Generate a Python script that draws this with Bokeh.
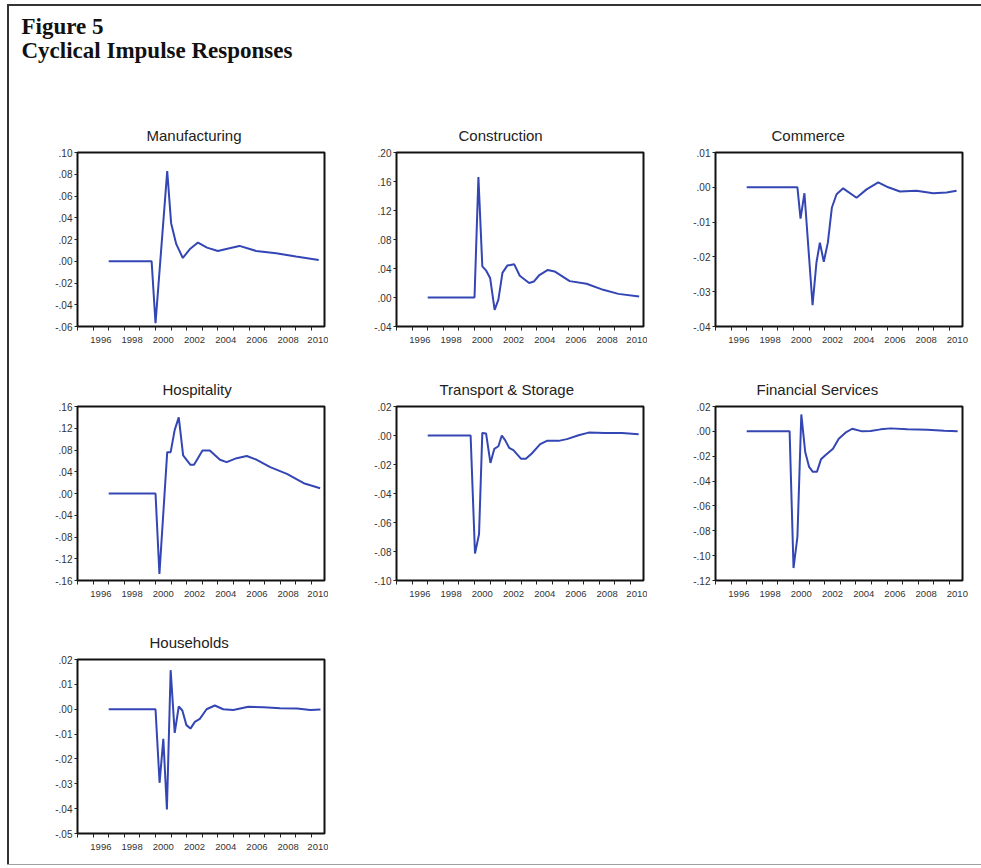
from bokeh.plotting import figure
from bokeh.layouts import column, row
from bokeh.models import Range1d, FixedTicker, CustomJSTickFormatter, Title, Label, Spacer
from bokeh.embed import file_html
from bokeh.resources import INLINE

# ---------------- data ----------------
heading = ["Figure 5", "Cyclical Impulse Responses"]

x_tick_labels = ["1996", "1998", "2000", "2002", "2004", "2006", "2008", "2010"]
x_years = list(range(1995, 2011))

manufacturing_x = [1997.0, 1999.75, 2000.0, 2000.75, 2001.0, 2001.33, 2001.75, 2002.19, 2002.72,
                   2003.3, 2004.0, 2004.6, 2005.38, 2006.45, 2007.73, 2009.0, 2010.46]
manufacturing_y = [0.0, 0.0, -0.057, 0.083, 0.035, 0.0157, 0.003, 0.011, 0.0172,
                   0.0125, 0.0095, 0.0115, 0.0141, 0.0095, 0.0074, 0.0043, 0.0012]

construction_x = [1997.0, 2000.0, 2000.25, 2000.5, 2000.75, 2001.0, 2001.29, 2001.53, 2001.79, 2002.1,
                  2002.54, 2002.9, 2003.5, 2003.8, 2004.16, 2004.7, 2005.13, 2006.1, 2007.18,
                  2008.25, 2009.22, 2010.55]
construction_y = [0.0, 0.0, 0.166, 0.043, 0.037, 0.027, -0.017, -0.003, 0.034, 0.044,
                  0.046, 0.030, 0.020, 0.022, 0.031, 0.038, 0.036, 0.0226, 0.019,
                  0.0106, 0.005, 0.0014]

commerce_x = [1997.0, 2000.25, 2000.45, 2000.7, 2001.22, 2001.47, 2001.69, 2001.94, 2002.2,
              2002.46, 2002.76, 2003.18, 2004.04, 2004.68, 2005.43, 2006.07, 2006.82,
              2007.88, 2008.95, 2009.81, 2010.45]
commerce_y = [0.0, 0.0, -0.009, -0.0017, -0.0339, -0.0216, -0.0159, -0.0214, -0.0159,
              -0.0058, -0.002, -0.0003, -0.003, -0.0006, 0.0014, 0.0, -0.0012,
              -0.001, -0.0017, -0.0015, -0.001]

hospitality_x = [1997.0, 2000.0, 2000.25, 2000.75, 2000.97, 2001.23, 2001.49, 2001.77, 2002.24,
                 2002.47, 2003.01, 2003.48, 2004.13, 2004.56, 2005.2, 2005.85, 2006.49,
                 2007.35, 2008.42, 2009.5, 2010.55]
hospitality_y = [0.0, 0.0, -0.148, 0.076, 0.076, 0.117, 0.14, 0.07, 0.0527,
                 0.0527, 0.079, 0.079, 0.062, 0.0576, 0.065, 0.069, 0.062,
                 0.0484, 0.036, 0.019, 0.0098]

transport_x = [1997.0, 1999.75, 2000.03, 2000.29, 2000.5, 2000.74, 2001.02, 2001.27, 2001.53,
               2001.75, 2001.96, 2002.22, 2002.49, 2002.99, 2003.29, 2003.67, 2004.21,
               2004.64, 2005.39, 2005.92, 2006.67, 2007.31, 2008.38, 2009.45, 2010.52]
transport_y = [0.0, 0.0, -0.0814, -0.068, 0.0018, 0.0014, -0.0189, -0.0092, -0.0074,
               0.0, -0.0032, -0.0085, -0.0101, -0.0161, -0.0161, -0.0124, -0.006,
               -0.0037, -0.0037, -0.0025, 0.0002, 0.002, 0.0018, 0.0018, 0.0009]

financial_x = [1997.0, 1999.75, 2000.0, 2000.25, 2000.5, 2000.75, 2001.0, 2001.24, 2001.5,
               2001.76, 2002.04, 2002.53, 2002.9, 2003.33, 2003.76, 2004.4, 2004.94,
               2005.58, 2006.22, 2007.3, 2008.58, 2009.66, 2010.52]
financial_y = [0.0, 0.0, -0.110, -0.085, 0.0136, -0.0166, -0.0286, -0.0326, -0.0326,
               -0.0225, -0.0192, -0.0139, -0.0059, -0.0011, 0.0021, 0.0, 0.0003,
               0.0016, 0.0024, 0.0016, 0.0013, 0.0005, 0.0]

households_x = [1997.0, 2000.0, 2000.26, 2000.5, 2000.73, 2000.97, 2001.23, 2001.49, 2001.72,
                2001.98, 2002.24, 2002.52, 2002.84, 2003.27, 2003.8, 2004.34, 2004.98,
                2005.95, 2006.92, 2007.99, 2009.07, 2009.93, 2010.57]
households_y = [0.0, 0.0, -0.0296, -0.0119, -0.0403, 0.0157, -0.0095, 0.0011, -0.0005,
                -0.0064, -0.0078, -0.0051, -0.0039, 0.0, 0.0015, 0.0, -0.0003,
                0.001, 0.0008, 0.0004, 0.0003, -0.0003, -0.0001]

panel_titles = ["Manufacturing", "Construction", "Commerce", "Hospitality",
                "Transport & Storage", "Financial Services", "Households"]
y_ticks = [
    [-0.06, -0.04, -0.02, 0.0, 0.02, 0.04, 0.06, 0.08, 0.10],
    [-0.04, 0.0, 0.04, 0.08, 0.12, 0.16, 0.20],
    [-0.04, -0.03, -0.02, -0.01, 0.0, 0.01],
    [-0.16, -0.12, -0.08, -0.04, 0.0, 0.04, 0.08, 0.12, 0.16],
    [-0.10, -0.08, -0.06, -0.04, -0.02, 0.0, 0.02],
    [-0.12, -0.10, -0.08, -0.06, -0.04, -0.02, 0.0, 0.02],
    [-0.05, -0.04, -0.03, -0.02, -0.01, 0.0, 0.01, 0.02],
]
series_x = [manufacturing_x, construction_x, commerce_x, hospitality_x,
            transport_x, financial_x, households_x]
series_y = [manufacturing_y, construction_y, commerce_y, hospitality_y,
            transport_y, financial_y, households_y]

# ---------------- layout / style ----------------
LINE = "#3446b4"
FONT = "Liberation Sans"
title_offsets = [69, 62, 56, 85, 43, 41, 72]
frame_w, frame_h = 247, 174
border_right = [4, 4, 21]
border_bottom = [35, 34, 31]
INNER_W, INNER_H = 974, 858

yfmt = CustomJSTickFormatter(code="""
    var s = Math.abs(tick).toFixed(2).replace(/^0/, '');
    return (tick < -1e-9 ? '-' : '') + s;
""")


def make_panel(i, r, c):
    p = figure(output_backend="svg", toolbar_location=None, tools="",
               frame_width=frame_w, frame_height=frame_h,
               min_border_left=68, min_border_right=border_right[c],
               min_border_top=45, min_border_bottom=border_bottom[r],
               x_range=Range1d(1995, 2010.83),
               y_range=Range1d(y_ticks[i][0], y_ticks[i][-1]),
               background_fill_color="white", border_fill_color="white")
    p.title = Title(text=panel_titles[i], align="left", offset=title_offsets[i],
                    text_font=FONT, text_font_size="15px", text_font_style="normal",
                    text_color="#222222", standoff=18)
    p.outline_line_color = "#111111"
    p.outline_line_width = 2
    p.grid.visible = False

    xa = p.xaxis[0]
    xa.ticker = FixedTicker(ticks=[int(t) + 0.5 for t in x_tick_labels], minor_ticks=x_years)
    xa.major_label_overrides = {int(t) + 0.5: t for t in x_tick_labels}
    xa.major_tick_out = 0
    xa.major_tick_in = 0
    xa.minor_tick_out = 4
    xa.minor_tick_in = 0
    xa.minor_tick_line_color = "#222222"
    xa.axis_line_color = None
    xa.major_label_standoff = 6
    xa.major_label_text_font = FONT
    xa.major_label_text_font_size = "9.5px"
    xa.major_label_text_color = "#333333"

    ya = p.yaxis[0]
    ya.ticker = FixedTicker(ticks=y_ticks[i])
    ya.formatter = yfmt
    ya.major_tick_out = 3
    ya.major_tick_in = 0
    ya.minor_tick_out = 0
    ya.minor_tick_in = 0
    ya.major_tick_line_color = "#222222"
    ya.axis_line_color = None
    ya.major_label_standoff = 2
    ya.major_label_text_font = FONT
    ya.major_label_text_font_size = "10px"
    ya.major_label_text_color = "#333333"

    p.line(series_x[i], series_y[i], line_color=LINE, line_width=2)
    return p


# header
hdr = figure(output_backend="svg", toolbar_location=None, tools="",
             width=INNER_W, height=101, x_range=Range1d(0, INNER_W), y_range=Range1d(101, 0),
             min_border=0, outline_line_color=None,
             background_fill_color="white", border_fill_color="white")
hdr.axis.visible = False
hdr.grid.visible = False
for k, txt in enumerate(heading):
    hdr.add_layout(Label(x=12, y=20 + 24 * k, text=txt, text_font="Liberation Serif",
                         text_font_size="23px", text_font_style="bold",
                         text_color="#111111", text_baseline="alphabetic"))

panels = [make_panel(i, i // 3, i % 3) for i in range(7)]
rows = [row(panels[0:3], spacing=0), row(panels[3:6], spacing=0), row(panels[6:7], spacing=0)]
inner = column([hdr] + rows, spacing=0)

top_bar = Spacer(width=INNER_W + 2, height=2, styles={"background-color": "#333333"})
left_bar = Spacer(width=2, height=INNER_H, styles={"background-color": "#333333"})
bottom_bar = Spacer(width=INNER_W + 2, height=1, styles={"background-color": "#a0a0a0"})

layout = column([top_bar, row([left_bar, inner], spacing=0), bottom_bar], spacing=0,
                styles={"margin-left": "7px", "margin-top": "4px"})

open("out.html", "w").write(file_html(layout, INLINE))
